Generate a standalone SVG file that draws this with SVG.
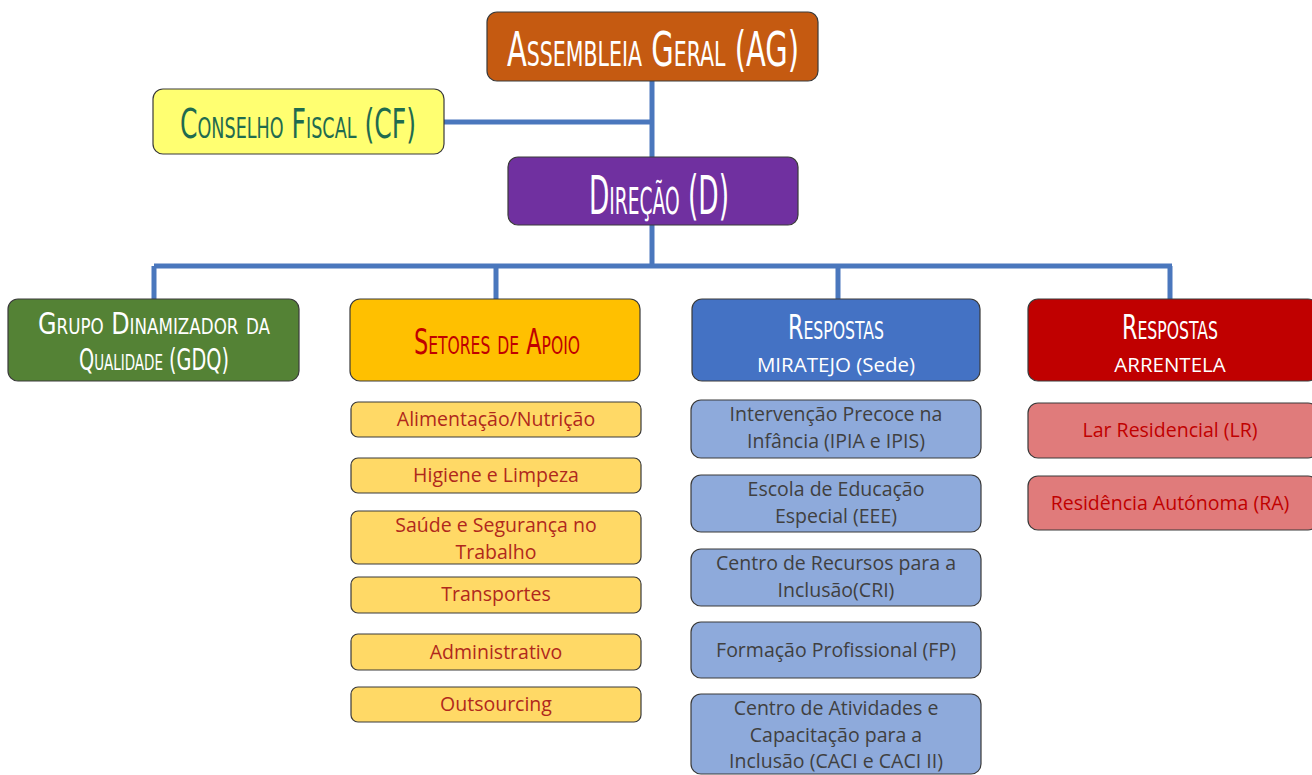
<svg xmlns="http://www.w3.org/2000/svg" width="1312" height="775" viewBox="0 0 1312 775">
<style>
.hd{font-family:"DejaVu Sans Condensed","DejaVu Sans",sans-serif;font-variant:small-caps;text-anchor:middle;font-weight:normal}
.bx{stroke:#3a3a3a;stroke-width:1.2}
.tx{font-family:"Open Sans","Liberation Sans",sans-serif;font-size:19.5px;text-anchor:middle}
.ln{stroke:#4a77bd;stroke-width:5;fill:none}
</style>
<rect width="1312" height="775" fill="#ffffff"/>
<g id="connectors">
<path class="ln" d="M652 81V157M444 122H652M652 225V266M154 266H1172M154 266V299M496 266V299M838 266V299M1170 266V299"/>
</g>
<g id="ag"><rect class="bx" x="487" y="12" width="331" height="69" rx="10" fill="#c55a11"/>
<text class="hd" x="653" y="66" font-size="48" fill="#ffffff" textLength="292" lengthAdjust="spacingAndGlyphs">Assembleia Geral (AG)</text></g>
<g id="cf"><rect class="bx" x="153" y="89" width="291" height="65" rx="10" fill="#ffff71"/>
<text class="hd" x="298" y="138" font-size="40" fill="#1f6b4f" textLength="236" lengthAdjust="spacingAndGlyphs">Conselho Fiscal (CF)</text></g>
<g id="d"><rect class="bx" x="508" y="157" width="290" height="68" rx="10" fill="#7030a0"/>
<text class="hd" x="659" y="214" font-size="54" fill="#ffffff" textLength="140" lengthAdjust="spacingAndGlyphs">Direção (D)</text></g>
<g id="gdq"><rect class="bx" x="8" y="299" width="291" height="82" rx="10" fill="#548235"/>
<text class="hd" x="154" y="334" font-size="30" fill="#ffffff" textLength="232" lengthAdjust="spacingAndGlyphs">Grupo Dinamizador da</text>
<text class="hd" x="154" y="370" font-size="30" fill="#ffffff" textLength="150" lengthAdjust="spacingAndGlyphs">Qualidade (GDQ)</text></g>
<g id="setores"><rect class="bx" x="350" y="299" width="290" height="82" rx="10" fill="#ffc000"/>
<text class="hd" x="497" y="354" font-size="36" fill="#c00000" textLength="166" lengthAdjust="spacingAndGlyphs">Setores de Apoio</text></g>
<g id="miratejo"><rect class="bx" x="692" y="299" width="288" height="82" rx="10" fill="#4472c4"/>
<text class="hd" x="836" y="339" font-size="34" fill="#ffffff" textLength="96" lengthAdjust="spacingAndGlyphs">Respostas</text>
<text class="tx" x="836" y="372" fill="#ffffff" style="font-size:20.5px">MIRATEJO (Sede)</text></g>
<g id="arrentela"><rect class="bx" x="1028" y="299" width="290" height="82" rx="10" fill="#c00000"/>
<text class="hd" x="1170" y="339" font-size="34" fill="#ffffff" textLength="96" lengthAdjust="spacingAndGlyphs">Respostas</text>
<text class="tx" x="1170" y="372" fill="#ffffff" style="font-size:20.5px">ARRENTELA</text></g>
<g id="s1"><rect class="bx" x="351" y="402" width="290" height="35" rx="7" fill="#ffd966"/><text class="tx" x="496" y="426" fill="#b0281c">Alimentação/Nutrição</text></g>
<g id="s2"><rect class="bx" x="351" y="458" width="290" height="35" rx="7" fill="#ffd966"/><text class="tx" x="496" y="482" fill="#b0281c">Higiene e Limpeza</text></g>
<g id="s3"><rect class="bx" x="351" y="511" width="290" height="53" rx="7" fill="#ffd966"/><text class="tx" x="496" y="532" fill="#b0281c">Saúde e Segurança no</text><text class="tx" x="496" y="559" fill="#b0281c">Trabalho</text></g>
<g id="s4"><rect class="bx" x="351" y="577" width="290" height="36" rx="7" fill="#ffd966"/><text class="tx" x="496" y="601" fill="#b0281c">Transportes</text></g>
<g id="s5"><rect class="bx" x="351" y="634" width="290" height="36" rx="7" fill="#ffd966"/><text class="tx" x="496" y="659" fill="#b0281c">Administrativo</text></g>
<g id="s6"><rect class="bx" x="351" y="687" width="290" height="35" rx="7" fill="#ffd966"/><text class="tx" x="496" y="711" fill="#b0281c">Outsourcing</text></g>
<g id="m1"><rect class="bx" x="691" y="400" width="290" height="58" rx="10" fill="#8eaadb"/><text class="tx" x="836" y="421" fill="#404040">Intervenção  Precoce na</text><text class="tx" x="836" y="448" fill="#404040">Infância (IPIA e IPIS)</text></g>
<g id="m2"><rect class="bx" x="691" y="475" width="290" height="57" rx="10" fill="#8eaadb"/><text class="tx" x="836" y="496" fill="#404040">Escola de Educação</text><text class="tx" x="836" y="523" fill="#404040">Especial (EEE)</text></g>
<g id="m3"><rect class="bx" x="691" y="549" width="290" height="57" rx="10" fill="#8eaadb"/><text class="tx" x="836" y="570" fill="#404040">Centro de Recursos para a</text><text class="tx" x="836" y="597" fill="#404040">Inclusão(CRI)</text></g>
<g id="m4"><rect class="bx" x="691" y="622" width="290" height="56" rx="10" fill="#8eaadb"/><text class="tx" x="836" y="657" fill="#404040">Formação Profissional (FP)</text></g>
<g id="m5"><rect class="bx" x="691" y="694" width="290" height="80" rx="10" fill="#8eaadb"/><text class="tx" x="836" y="715" fill="#404040">Centro de Atividades e</text><text class="tx" x="836" y="742" fill="#404040">Capacitação para a</text><text class="tx" x="836" y="768" fill="#404040">Inclusão (CACI e CACI II)</text></g>
<g id="a1"><rect class="bx" x="1028" y="403" width="290" height="55" rx="10" fill="#e07b7b"/><text class="tx" x="1170" y="437" fill="#c00000">Lar Residencial (LR)</text></g>
<g id="a2"><rect class="bx" x="1028" y="476" width="290" height="54" rx="10" fill="#e07b7b"/><text class="tx" x="1170" y="510" fill="#c00000">Residência Autónoma (RA)</text></g>
</svg>
